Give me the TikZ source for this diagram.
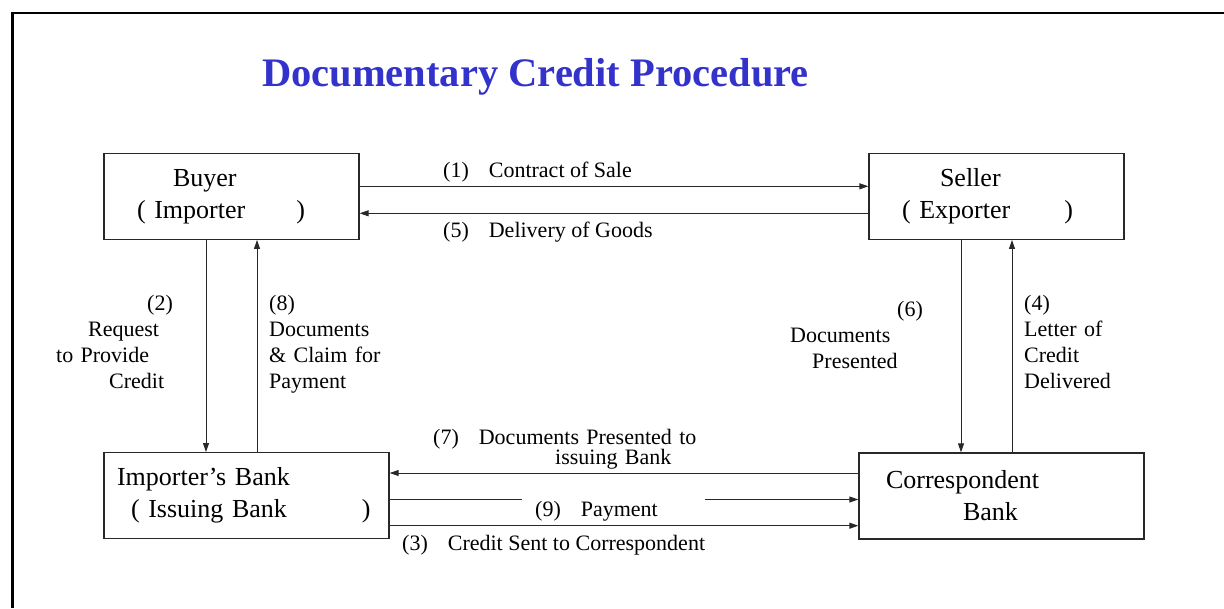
\documentclass[tikz,border=0pt]{standalone}
\usepackage{fontspec}
\setmainfont{Liberation Serif}
\usetikzlibrary{arrows.meta}
\definecolor{titleblue}{RGB}{51,51,204}
\definecolor{ink}{RGB}{40,40,40}

\begin{document}
\begin{tikzpicture}[x=1pt,y=-1pt,
  party/.style={draw=ink, line width=1.3pt, rectangle, inner sep=0pt,
    minimum height=86pt, text width=#1, align=left,
    font=\fontsize{26}{32}\selectfont},
  flow/.style={draw=ink, line width=1pt, -{Triangle[length=9pt,width=6pt]}},
  plainline/.style={draw=ink, line width=1pt},
  lbl/.style={inner sep=0pt, anchor=base west, font=\fontsize{22}{26}\selectfont},
  lblpar/.style={lbl, text width=#1, align=left},
]
\useasboundingbox (0,0) rectangle (1224,608);

% page frame (open on the right and bottom)
\draw[line width=2.2pt] (12.5,608) -- (12.5,13) -- (1224,13);

% title
\node[anchor=base, inner sep=0pt, text=titleblue,
      font=\fontsize{40.5}{48}\selectfont\bfseries] (title) at (535.5,86)
      {Documentary Credit Procedure};

% parties
\node[party=255pt] (buyer) at (231.5,196.3)
  {\hspace*{69pt}Buyer\\\hspace*{33pt}( Importer\hspace{51pt})};
\node[party=255pt] (seller) at (996.5,196.3)
  {\hspace*{71pt}Seller\\\hspace*{33pt}( Exporter\hspace{54pt})};
\node[party=285pt] (ibank) at (246.5,495.7)
  {\hspace*{13pt}Importer’s Bank\\\hspace*{27pt}( Issuing Bank\hspace{75pt})};
\node[party=285pt] (cbank) at (1001.5,496)
  {\hspace*{27pt}Correspondent\\\hspace*{104pt}Bank};

% buyer <-> seller
\draw[flow] ([yshift=10pt]buyer.east) -- ([yshift=10pt]buyer.east -| seller.west);
\draw[flow] ([yshift=-17pt]seller.west) -- ([yshift=-17pt]seller.west -| buyer.east);

% buyer <-> issuing bank
\draw[flow] ([xshift=-25.5pt]buyer.south) -- ([xshift=-25.5pt]buyer.south |- ibank.north);
\draw[flow] ([xshift=25.5pt]buyer.south |- ibank.north) -- ([xshift=25.5pt]buyer.south);

% seller <-> correspondent bank
\draw[flow] ([xshift=-35.5pt]seller.south) -- ([xshift=-35.5pt]seller.south |- cbank.north);
\draw[flow] ([xshift=15.5pt]seller.south |- cbank.north) -- ([xshift=15.5pt]seller.south);

% issuing bank <-> correspondent bank
\draw[flow] ([yshift=23pt]cbank.west) -- ([yshift=23pt]cbank.west -| ibank.east);
\coordinate (paygapL) at (522,499.5);
\coordinate (paygapR) at (705,499.5);
\draw[plainline] (ibank.east |- paygapL) -- (paygapL);
\draw[flow] (paygapR) -- (paygapR -| cbank.west);
\draw[flow] ([yshift=-30pt]ibank.east) -- ([yshift=-30pt]ibank.east -| cbank.west);

% step labels
\node[lbl] (l1) at (443,177) {(1)\hspace{20pt}Contract of Sale};
\node[lbl] (l5) at (443,237.3) {(5)\hspace{20pt}Delivery of Goods};
\node[lblpar=130pt] (l2) at (56,310.7)
  {\hspace*{91pt}(2)\\\hspace*{32pt}Request\\to Provide\\\hspace*{53pt}Credit};
\node[lblpar=130pt] (l8) at (269,310.7)
  {(8)\\Documents\\\&~Claim for\\Payment};
\node[lblpar=140pt] (l6) at (790,316.7)
  {\hspace*{107pt}(6)\\Documents\\\hspace*{22pt}Presented};
\node[lblpar=110pt] (l4) at (1024,310)
  {(4)\\Letter of\\Credit\\Delivered};
\node[lblpar=290pt, font=\fontsize{22}{19}\selectfont] (l7) at (433,444)
  {\lineskiplimit=-100pt (7)\hspace{20pt}Documents Presented to\\\hspace*{122pt}issuing Bank};
\node[lbl] (l9) at (535,516.7) {(9)\hspace{20pt}Payment};
\node[lbl] (l3) at (402,550) {(3)\hspace{20pt}Credit Sent to Correspondent};
\end{tikzpicture}
\end{document}
